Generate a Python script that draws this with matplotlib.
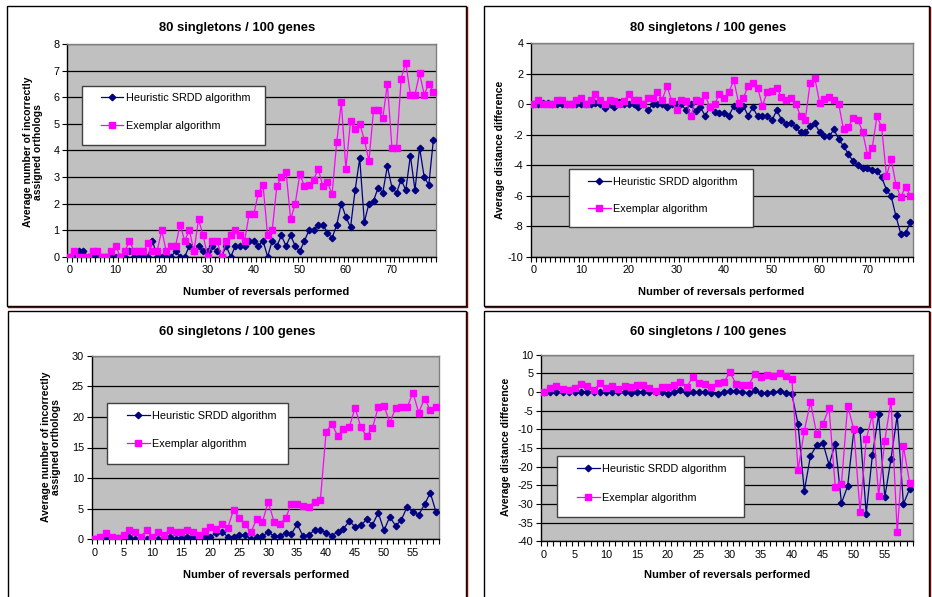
import matplotlib
matplotlib.use("Agg")
import matplotlib.pyplot as plt
import numpy as np
from matplotlib.patches import Rectangle
from matplotlib.lines import Line2D

plt.rcParams['font.family'] = ['Liberation Sans', 'DejaVu Sans']

# ---------------- data ----------------
titles = ["80 singletons / 100 genes", "80 singletons / 100 genes",
          "60 singletons / 100 genes", "60 singletons / 100 genes"]
series_names = ["Heuristic SRDD algorithm", "Exemplar algorithm"]
xlabel = "Number of reversals performed"
ylabel_count = "Average number of incorrectly\nassigned orthologs"
ylabel_dist = "Average distance difference"

# top-left: 80 singletons, incorrectly assigned orthologs
tl_heur = [0, 0, 0.2, 0.2, 0, 0, 0, 0, 0, 0,
           0, 0, 0, 0.2, 0, 0, 0, 0, 0.6, 0,
           0, 0, 0, 0.2, 0, 0, 0.4, 0.2, 0.4, 0.2,
           0.2, 0.4, 0.2, 0, 0.4, 0, 0.4, 0.4, 0.4, 0.6,
           0.6, 0.4, 0.6, 0, 0.6, 0.4, 0.8, 0.4, 0.8, 0.4,
           0.2, 0.6, 1.0, 1.0, 1.2, 1.2, 0.9, 0.7, 1.2, 2.0,
           1.5, 1.1, 2.5, 3.7, 1.3, 2.0, 2.1, 2.6, 2.4, 3.4,
           2.6, 2.4, 2.9, 2.5, 3.8, 2.5, 4.1, 3.0, 2.7, 4.4]
tl_exem = [0, 0.2, 0, 0, 0, 0.2, 0.2, 0, 0, 0.2,
           0.4, 0, 0.2, 0.6, 0.2, 0.2, 0.2, 0.5, 0.2, 0.2,
           1.0, 0.2, 0.4, 0.4, 1.2, 0.6, 1.0, 0.2, 1.4, 0.8,
           0, 0.6, 0.6, 0, 0.6, 0.8, 1.0, 0.8, 0.6, 1.6,
           1.6, 2.4, 2.7, 0.8, 1.0, 2.65, 3.0, 3.2, 1.4, 2.0,
           3.1, 2.65, 2.7, 2.9, 3.3, 2.65, 2.8, 2.35, 4.3, 5.8,
           3.3, 5.1, 4.8, 5.0, 4.4, 3.6, 5.5, 5.5, 5.2, 6.5,
           4.1, 4.1, 6.7, 7.3, 6.1, 6.1, 6.9, 6.1, 6.5, 6.2]

# top-right: 80 singletons, distance difference
tr_heur = [0, 0, 0.1, 0.1, 0, 0, 0, 0, 0, 0,
           0, 0, 0, 0.1, 0, -0.25, 0, -0.2, 0.15, 0,
           0, 0, -0.2, 0, -0.4, 0, 0, 0, -0.15, 0,
           0, 0, -0.4, 0, -0.45, -0.2, -0.75, -0.2, -0.5, -0.6,
           -0.6, -0.75, -0.1, -0.4, -0.1, -0.75, -0.2, -0.8, -0.8, -0.8,
           -1.05, -0.4, -1.0, -1.3, -1.25, -1.5, -1.85, -1.85, -1.45, -1.25,
           -1.85, -2.1, -2.1, -1.65, -2.3, -2.75, -3.25, -3.75, -4.0, -4.15,
           -4.2, -4.3, -4.35, -4.8, -5.6, -6.05, -7.35, -8.5, -8.45, -7.75]
tr_exem = [0, 0.3, 0, 0, 0, 0.3, 0.3, 0, 0, 0.3,
           0.4, 0, 0.3, 0.7, 0.3, 0, 0.3, 0.2, 0, 0.2,
           0.7, 0.3, 0.3, 0, 0.4, 0.4, 0.8, 0.3, 1.2, 0.2,
           -0.4, 0.3, 0.2, -0.8, 0.3, 0.2, 0.6, -0.2, 0, 0.7,
           0.4, 0.8, 1.6, 0.1, 0.4, 1.2, 1.4, 1.1, -0.1, 0.8,
           0.9, 1.1, 0.45, 0.25, 0.4, 0.05, -0.8, -1.0, 1.4, 1.7,
           0.1, 0.35, 0.45, 0.25, 0, -1.65, -1.5, -0.9, -1.0, -1.8,
           -3.3, -2.9, -0.8, -1.5, -4.7, -3.6, -5.3, -6.1, -5.4, -6.0]

# bottom-left: 60 singletons, incorrectly assigned orthologs
bl_heur = [0, 0, 0.2, 0, 0.2, 0.2, 0.4, 0, 0, 0,
           0, 0.1, 0.1, 0.45, 0, 0.2, 0.4, 0.4, 0.2, 0.45,
           0.45, 1.0, 1.2, 0.45, 0.45, 0.75, 0.75, 0, 0.3, 0.5,
           1.2, 0.5, 0.5, 1.1, 0.85, 2.5, 0.5, 0.7, 1.5, 1.6,
           1.1, 0.6, 1.2, 1.75, 2.95, 2.05, 2.3, 3.25, 2.35, 4.35,
           1.45, 3.7, 2.2, 3.15, 5.35, 4.4, 4.0, 5.7, 7.6, 4.4]
bl_exem = [0, 0.45, 1.0, 0.45, 0.2, 0.75, 1.5, 1.25, 0.45, 1.5,
           0.45, 1.25, 0.7, 1.6, 1.15, 1.15, 1.5, 1.25, 0.7, 1.4,
           1.95, 1.7, 2.5, 1.85, 4.8, 3.4, 2.45, 1.15, 3.3, 2.85,
           6.1, 2.85, 2.5, 3.45, 5.8, 5.8, 5.45, 5.35, 6.1, 6.35,
           17.6, 18.8, 16.9, 18.0, 18.3, 21.5, 18.3, 16.8, 18.2, 21.55,
           21.8, 19.05, 21.4, 21.55, 21.55, 23.95, 20.7, 23.0, 21.1, 21.55]

# bottom-right: 60 singletons, distance difference
br_heur = [0, 0, 0, 0, 0, 0, 0.1, 0, 0, 0,
           0, 0, 0, 0, -0.2, 0.1, 0.1, 0, 0, 0,
           -0.5, 0.1, 0.5, -0.25, 0.1, 0.1, 0, -0.3, -0.5, 0,
           0.35, 0.2, 0, -0.25, 0.45, -0.2, -0.2, 0, 0.2, -0.2,
           -0.6, -8.7, -26.5, -17.1, -14.3, -13.6, -19.5, -13.8, -29.8, -25.2,
           -10.3, -10.3, -32.6, -16.8, -6.0, -28.2, -17.9, -6.25, -30.0, -26.0]
br_exem = [0, 1.0, 1.5, 0.7, 0.45, 1.0, 2.1, 1.7, 0.5, 2.3,
           1.0, 1.5, 0.7, 1.5, 1.25, 1.8, 2.0, 1.15, 0.25, 1.25,
           1.25, 2.0, 2.6, 1.25, 4.1, 2.3, 2.1, 1.25, 2.3, 2.6,
           5.3, 2.1, 1.95, 1.95, 4.7, 3.9, 4.45, 4.3, 5.1, 4.4,
           3.5, -20.9, -10.4, -2.7, -11.25, -8.5, -4.4, -25.4, -24.7, -3.65,
           -10.0, -32.1, -12.7, -5.9, -27.9, -13.0, -2.3, -37.6, -14.5, -24.3]

# ---------------- layout (pixels) ----------------
W, H = 932, 597
fig = plt.figure(figsize=(W / 100, H / 100), dpi=100)
fig.patch.set_facecolor('white')

def fx(x):
    return x / W

def fy(y):
    return 1 - y / H

NAVY = '#000080'
PINK = '#FF00FF'
BG = '#C0C0C0'

panels = [
    dict(data=(tl_heur, tl_exem), title=titles[0], ylabel=ylabel_count,
         plot=(67.3, 44, 435.7, 256.7), ylim=(0, 8), ystep=1, xstep=10,
         frame=(7, 6, 466, 305.5), title_xy=(237, 28), xlab_xy=(266, 292),
         ylab_xy=(33, 152), legend=(81.7, 86, 265.3, 145.3), leg_rows=(100.7, 129.3),
         leg_x=100.7),
    dict(data=(tr_heur, tr_exem), title=titles[1], ylabel=ylabel_dist,
         plot=(531, 43.3, 912.7, 256.7), ylim=(-10, 4), ystep=2, xstep=10,
         frame=(484, 6, 929, 305.5), title_xy=(708, 28), xlab_xy=(721, 292),
         ylab_xy=(500, 150), legend=(569, 169.3, 752.7, 227.3), leg_rows=(184.7, 212.7),
         leg_x=588),
    dict(data=(bl_heur, bl_exem), title=titles[2], ylabel=ylabel_count,
         plot=(91.7, 355.7, 439, 539.3), ylim=(0, 30), ystep=5, xstep=5,
         frame=(8, 311, 466, 600), title_xy=(237, 332), xlab_xy=(266, 575),
         ylab_xy=(51, 447), legend=(107.3, 402.7, 287.7, 464.3), leg_rows=(418.7, 448),
         leg_x=127),
    dict(data=(br_heur, br_exem), title=titles[3], ylabel=ylabel_dist,
         plot=(541, 354.7, 912.7, 541.3), ylim=(-40, 10), ystep=5, xstep=5,
         frame=(484, 311, 929, 600), title_xy=(708, 332), xlab_xy=(727, 575),
         ylab_xy=(506, 447), legend=(556.7, 456.3, 744.3, 517), leg_rows=(471.7, 501.7),
         leg_x=577),
]

for p in panels:
    # chart frame with maroon shadow
    x0, y0, x1, y1 = p['frame']
    fig.add_artist(Rectangle((fx(x0), fy(y1)), fx(x1 - x0), (y1 - y0) / H,
                             transform=fig.transFigure, facecolor='white',
                             edgecolor='black', lw=1.0, zorder=-5))
    fig.add_artist(Line2D([fx(x1 + 1.2), fx(x1 + 1.2)], [fy(y1), fy(y0 + 1)],
                          transform=fig.transFigure, color='#800000', lw=1.0, zorder=-4))
    fig.add_artist(Line2D([fx(x0 + 1), fx(x1 + 1.2)], [fy(y1 + 1.2), fy(y1 + 1.2)],
                          transform=fig.transFigure, color='#800000', lw=1.0, zorder=-4))

    px0, py0, px1, py1 = p['plot']
    ax = fig.add_axes([fx(px0), fy(py1), fx(px1 - px0), (py1 - py0) / H])
    ax.set_facecolor(BG)
    heur, exem = p['data']
    n = len(heur)
    x = np.arange(n)
    ax.plot(x, heur, color=NAVY, lw=0.9, marker='D', markersize=3.3,
            markerfacecolor=NAVY, markeredgecolor=NAVY, label=series_names[0], zorder=3)
    ax.plot(x, exem, color=PINK, lw=0.9, marker='s', markersize=4.4,
            markerfacecolor=PINK, markeredgecolor=PINK, label=series_names[1], zorder=3)
    ax.set_xlim(-0.5, n - 0.5)
    lo, hi = p['ylim']
    ax.set_ylim(lo, hi)
    yt = np.arange(lo, hi + 0.001, p['ystep'])
    ax.set_yticks(yt)
    ax.set_yticklabels([f"{v:g}" for v in yt])
    ax.yaxis.grid(True, color='black', lw=0.9)
    ax.set_axisbelow(True)
    xt = np.arange(0, n, p['xstep'])
    ax.set_xticks(xt)
    ax.set_xticklabels([str(v) for v in xt])
    ax.set_xticks(np.arange(-0.5, n, 1), minor=True)
    ax.tick_params(axis='x', which='major', length=0, pad=6, labelsize=7.8, colors='black')
    ax.tick_params(axis='x', which='minor', length=3.5, width=0.8, direction='out')
    ax.tick_params(axis='y', which='major', length=3.5, width=0.8, direction='out',
                   pad=2, labelsize=7.8)
    for s in ('top', 'right'):
        ax.spines[s].set_color('#808080')
        ax.spines[s].set_linewidth(1.0)
    for s in ('left', 'bottom'):
        ax.spines[s].set_color('black')
        ax.spines[s].set_linewidth(1.0)

    # texts
    tx, ty = p['title_xy']
    fig.text(fx(tx), fy(ty), p['title'], ha='center', va='center',
             fontsize=9.4, fontweight='bold')
    lx, ly = p['xlab_xy']
    fig.text(fx(lx), fy(ly), xlabel, ha='center', va='center',
             fontsize=8, fontweight='bold')
    yx, yy = p['ylab_xy']
    fig.text(fx(yx), fy(yy), p['ylabel'], ha='center', va='center', rotation=90,
             fontsize=7.5, fontweight='bold', multialignment='center', linespacing=1.1)

    # legend box
    lx0, ly0, lx1, ly1 = p['legend']
    ax.add_patch(Rectangle((fx(lx0), fy(ly1)), fx(lx1 - lx0), (ly1 - ly0) / H,
                           transform=fig.transFigure, facecolor='white',
                           edgecolor='#404040', lw=1.0, zorder=6, clip_on=False))
    r0, r1 = p['leg_rows']
    leg = ax.legend(loc='upper left',
                    bbox_to_anchor=(fx(p['leg_x']), fy(r0 - 8)),
                    bbox_transform=fig.transFigure, frameon=False,
                    borderpad=0, borderaxespad=0, handlelength=2.1,
                    handletextpad=0.25, fontsize=7.8,
                    labelspacing=(r1 - r0) / 10.8 - 1.0)
    leg.set_zorder(7)

fig.savefig('out.png', dpi=100, facecolor='white')
